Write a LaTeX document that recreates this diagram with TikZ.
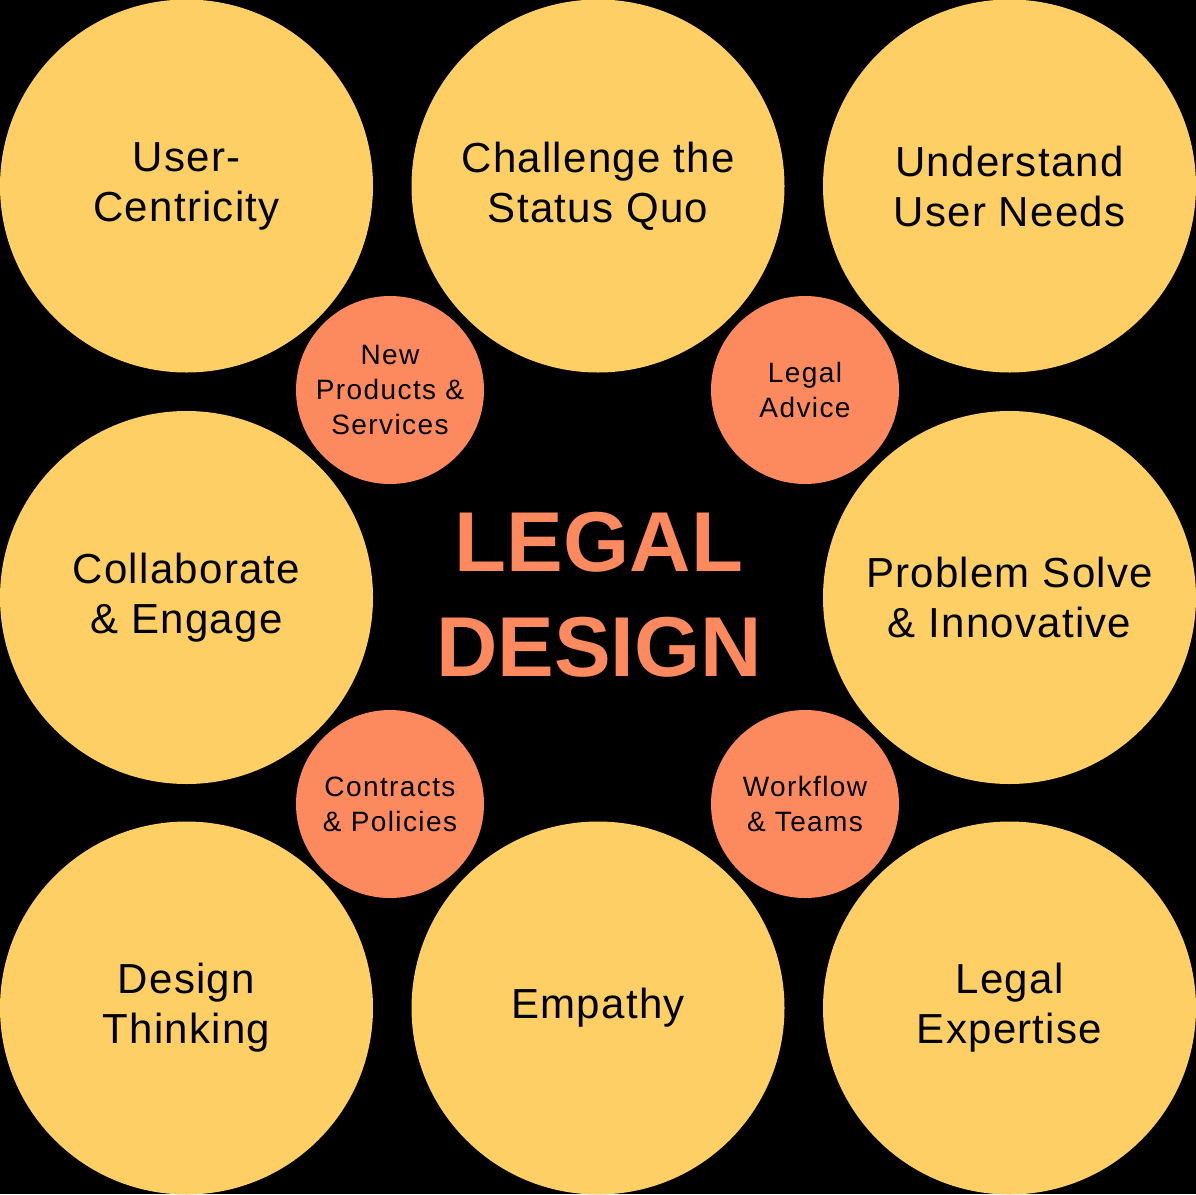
\documentclass[tikz,border=0pt]{standalone}
\usepackage{fontspec}
\setmainfont{Liberation Sans}
\newfontfamily\pillarfont[LetterSpace=3]{Liberation Sans}
\newfontfamily\areafont[LetterSpace=5]{Liberation Sans}
\usepackage{xcolor}
\definecolor{sunyellow}{HTML}{FDCF64}
\definecolor{coral}{HTML}{FD8A5E}

\begin{document}
\begin{tikzpicture}[x=1pt,y=-1pt,
  pillar/.style={circle,fill=sunyellow,minimum size=373pt,inner sep=0pt,
    align=center,text=black,font=\pillarfont\fontsize{42}{50}\selectfont},
  area/.style={circle,fill=coral,minimum size=188pt,inner sep=0pt,
    align=center,text=black,font=\areafont\fontsize{28}{35}\selectfont}]
  \useasboundingbox (0,0) rectangle (1196,1194);
  \fill[black] (0,0) rectangle (1196,1194);
  % big circles
  \node[pillar] (user) at (186.5,186) {User-\\Centricity};
  \node[pillar] (status) at (598,186) {Challenge the\\Status Quo};
  \node[pillar] (needs) at (1009.5,186) {Understand\\User Needs};
  \node[pillar] (collab) at (186.5,597.5) {Collaborate\\\& Engage};
  \node[pillar] (solve) at (1009.5,597.5) {Problem Solve\\\& Innovative};
  \node[pillar] (thinking) at (186.5,1008) {Design\\Thinking};
  \node[pillar] (empathy) at (598,1008) {Empathy};
  \node[pillar] (expertise) at (1009.5,1008) {Legal\\Expertise};
  % small circles
  \node[area] (products) at (390,390) {New\\Products \&\\Services};
  \node[area] (advice) at (805,390) {Legal\\Advice};
  \node[area] (contracts) at (390,804) {Contracts\\\& Policies};
  \node[area] (workflow) at (805,804) {Workflow\\\& Teams};
  % title
  \node[text=coral,align=center,font=\bfseries\fontsize{85}{105}\selectfont]
    (title) at (599,595) {LEGAL\\DESIGN};
\end{tikzpicture}
\end{document}
